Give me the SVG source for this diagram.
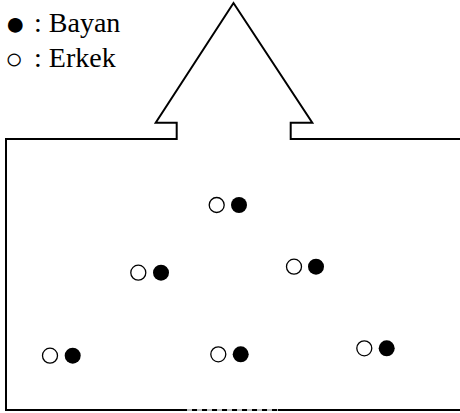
<svg xmlns="http://www.w3.org/2000/svg" width="460" height="413" viewBox="0 0 460 413">
<style>
.ln{fill:none;stroke:#000;stroke-width:2}
.o{fill:#fff;stroke:#000;stroke-width:1.3}
.f{fill:#000}
.t{font-family:"Liberation Serif","Times New Roman",serif;font-size:28px;fill:#000}
.b{font-size:34px}
</style>
<rect width="460" height="413" fill="#fff"/>
<g id="legend">
<text class="t"><tspan class="b" x="5" y="35">● </tspan><tspan x="34" y="32">: Bayan</tspan></text>
<text class="t"><tspan x="5" y="69" style="font-size:30px">○ </tspan><tspan x="34" y="67">: Erkek</tspan></text>
</g>
<g id="building">
<path class="ln" d="M460,139 H290.7 V122.7 H312.3 L233.5,3 L155.7,122.7 H176.7 V139 H6 V410 H182"/>
<path class="ln" d="M278,410 H460"/>
<line x1="182" y1="410" x2="278" y2="410" stroke="#bbb" stroke-width="2"/>
<line x1="182" y1="410" x2="278" y2="410" stroke="#000" stroke-width="2" stroke-dasharray="5,5"/>
</g>
<g id="pairs">
<g id="p1"><circle class="o" cx="216.7" cy="205" r="7.5"/><circle class="f" cx="239" cy="205" r="8"/></g>
<g id="p2"><circle class="o" cx="138.3" cy="272.7" r="7.5"/><circle class="f" cx="161" cy="272.7" r="8"/></g>
<g id="p3"><circle class="o" cx="294" cy="266.7" r="7.5"/><circle class="f" cx="316" cy="266.7" r="8"/></g>
<g id="p4"><circle class="o" cx="50" cy="355.7" r="7.5"/><circle class="f" cx="72.7" cy="355.7" r="8"/></g>
<g id="p5"><circle class="o" cx="218.3" cy="354.3" r="7.5"/><circle class="f" cx="240.7" cy="354.3" r="8"/></g>
<g id="p6"><circle class="o" cx="364.3" cy="348.3" r="7.5"/><circle class="f" cx="386.7" cy="348.3" r="8"/></g>
</g>
</svg>
